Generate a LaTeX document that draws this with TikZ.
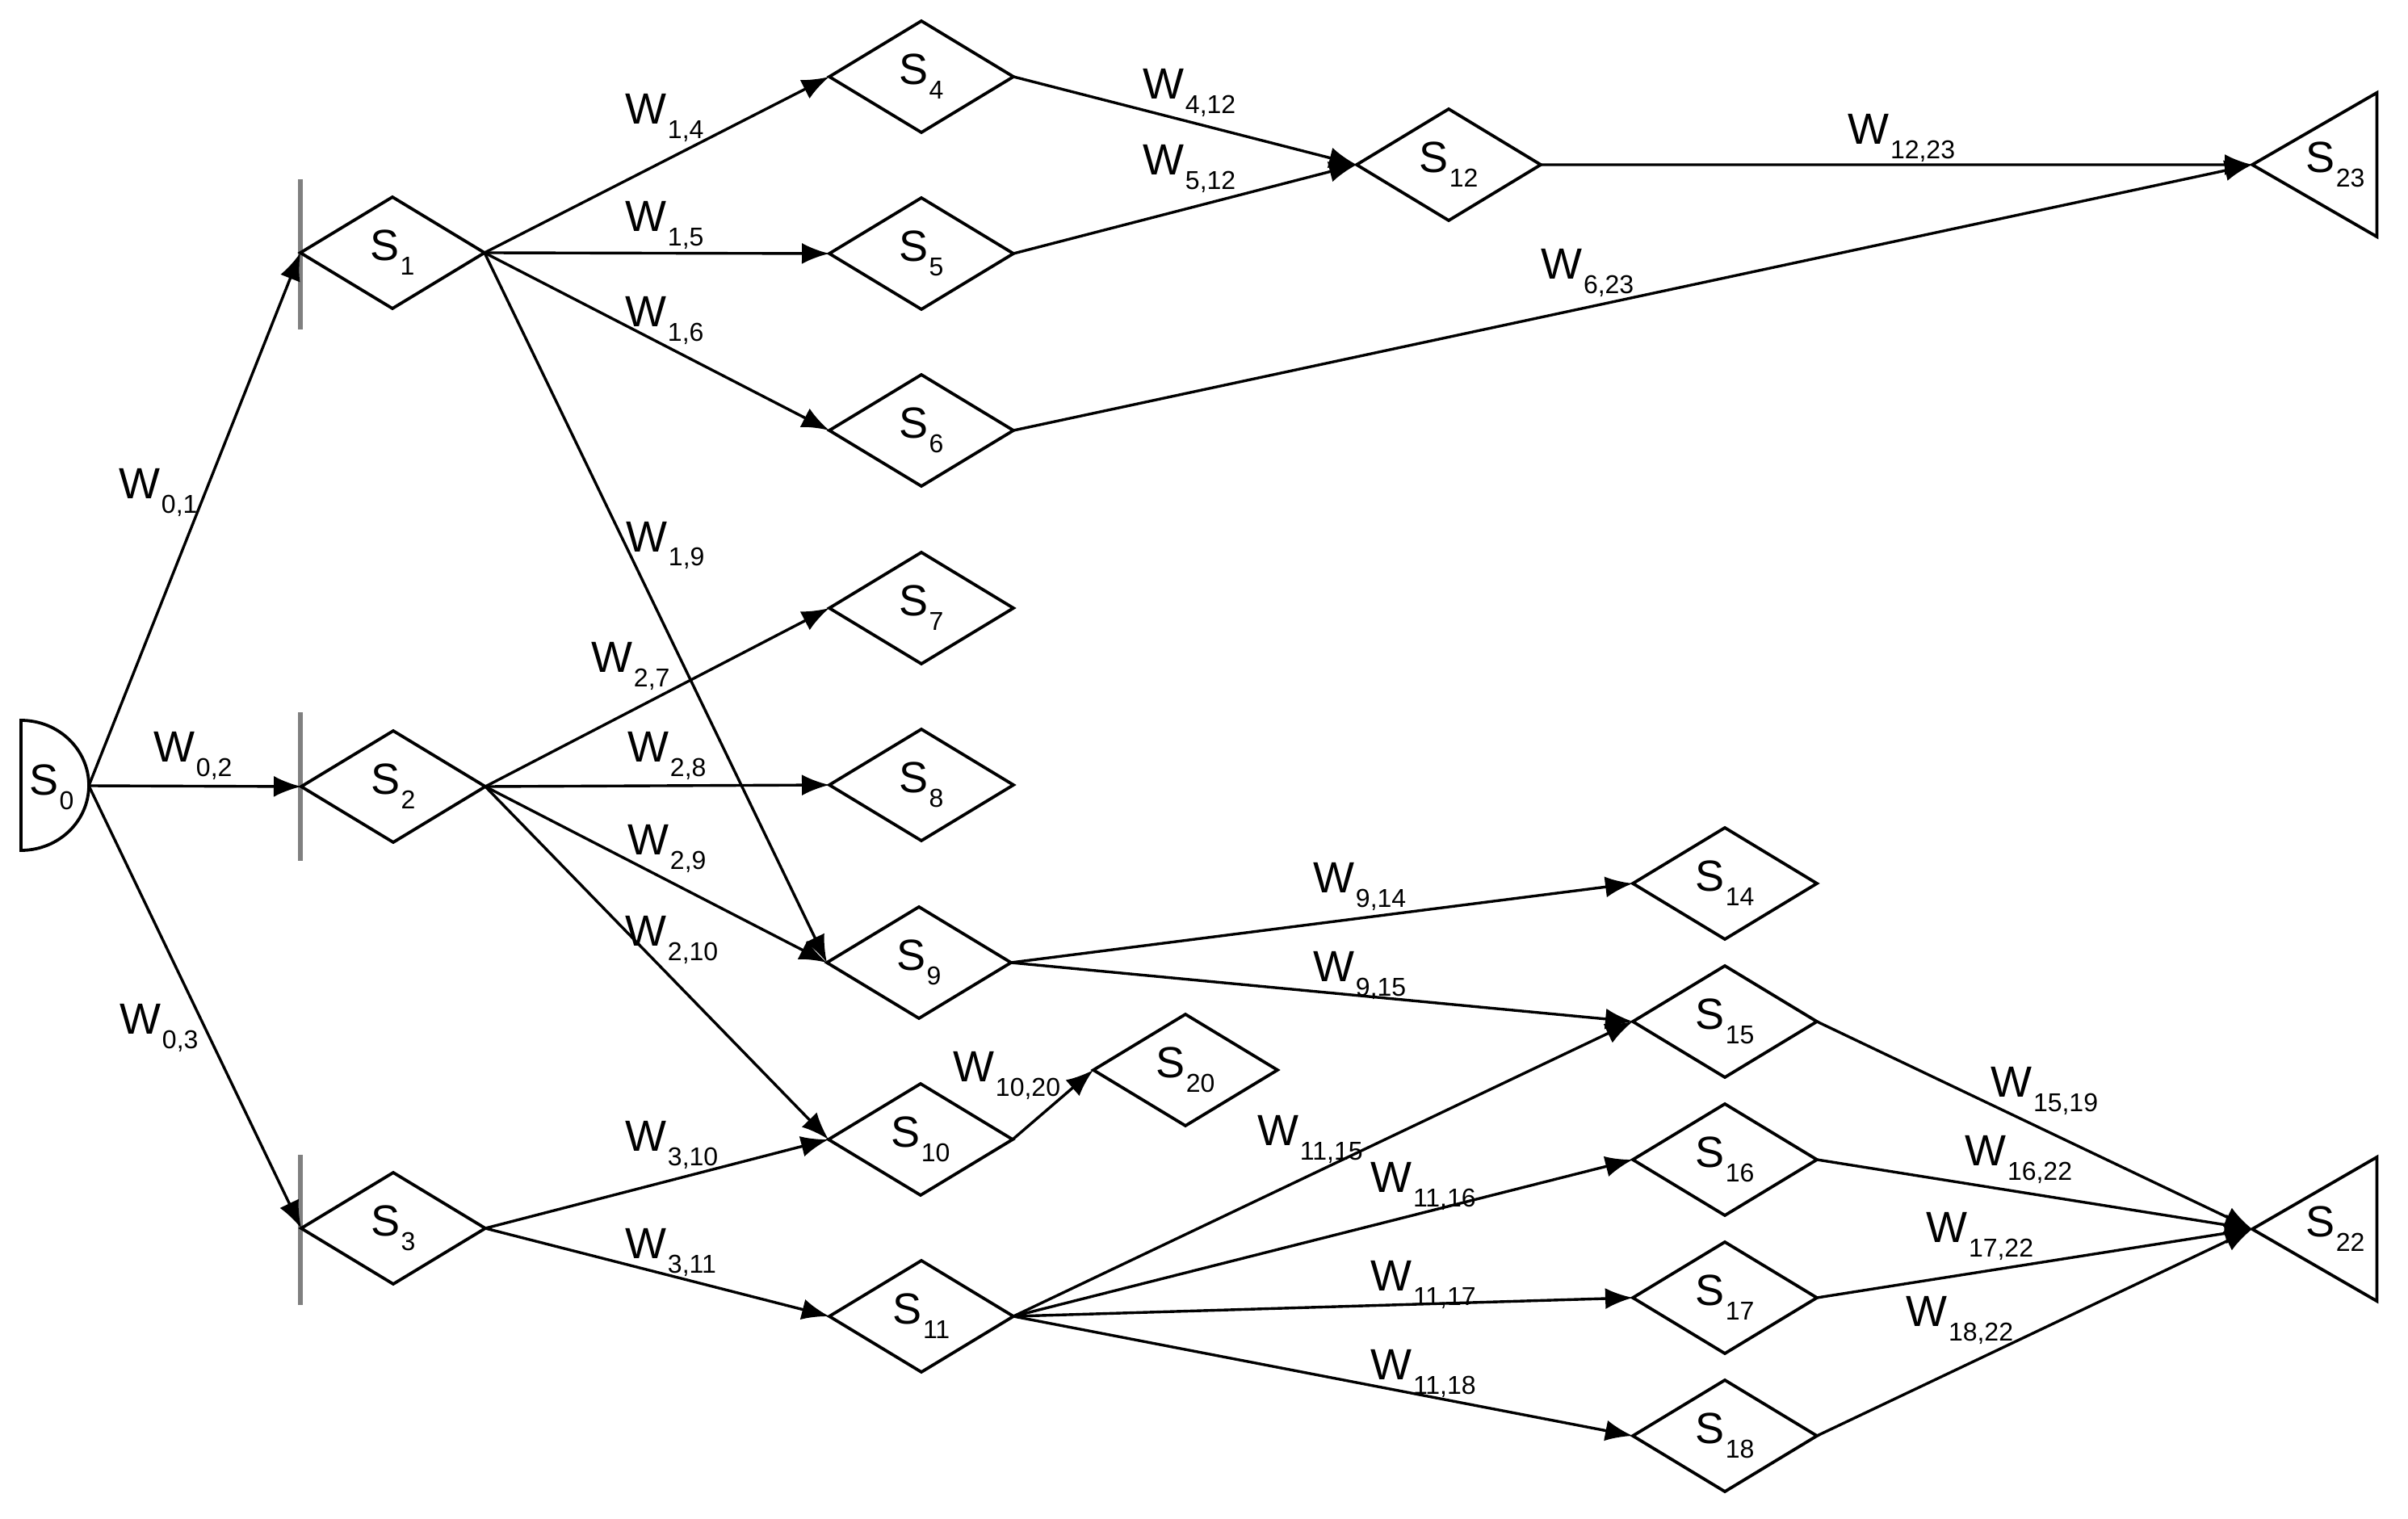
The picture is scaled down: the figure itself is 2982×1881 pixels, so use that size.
\documentclass[tikz,border=0pt]{standalone}
\usepackage{fontspec}
\setmainfont{Liberation Sans}
\usetikzlibrary{shapes.geometric,arrows.meta}
\newcommand{\subsz}{\fontsize{8}{9}\selectfont}
\newcommand{\wlab}[1]{W\kern0.3pt\raisebox{-4.5pt}{\subsz #1}}
\newcommand{\slab}[1]{S\kern0.3pt\raisebox{-4.5pt}{\subsz #1}}
\begin{document}
\begin{tikzpicture}[x=0.25pt,y=-0.25pt,
  state/.style={diamond, draw, line width=0.95pt, minimum width=57pt, minimum height=34.5pt, inner sep=0pt, outer sep=0pt, font=\fontsize{13.5}{14}\selectfont},
  sink/.style={regular polygon, regular polygon sides=3, shape border rotate=90, draw, line width=0.95pt, minimum size=50.25pt, inner sep=0pt, outer sep=0pt, font=\fontsize{13.5}{14}\selectfont},
  edge/.style={line width=0.85pt, -{Latex[length=8.5pt,width=6.5pt]}},
  wl/.style={anchor=base west, inner sep=0pt, font=\fontsize{13.5}{14}\selectfont},
  bar/.style={line width=1.3pt, draw=black!50}
]
\useasboundingbox (0,0) rectangle (2982,1881);
% source S0
\draw[line width=0.95pt] (26,892) -- (26,1053) arc[start angle=-90, end angle=90, x radius=21pt, y radius=20.125pt] -- cycle;
\node[inner sep=0pt, font=\fontsize{13.5}{14}\selectfont] (S0) at (64,975) {\slab{0}};
\coordinate (S0e) at (110,973);
% bars
\draw[bar] (372,222) coordinate (b1a) -- (372,408) coordinate (b1b);
\draw[bar] (372,882) coordinate (b2a) -- (372,1066) coordinate (b2b);
\draw[bar] (372,1430) coordinate (b3a) -- (372,1616) coordinate (b3b);
% states
\node[state] (S1) at (486,313) {\slab{1}};
\node[state] (S2) at (487,974) {\slab{2}};
\node[state] (S3) at (487,1521) {\slab{3}};
\node[state] (S4) at (1141,95) {\slab{4}};
\node[state] (S5) at (1141,314) {\slab{5}};
\node[state] (S6) at (1141,533) {\slab{6}};
\node[state] (S7) at (1141,753) {\slab{7}};
\node[state] (S8) at (1141,972) {\slab{8}};
\node[state] (S9) at (1138,1192) {\slab{9}};
\node[state] (S10) at (1140,1411) {\slab{10}};
\node[state] (S11) at (1141,1630) {\slab{11}};
\node[state] (S12) at (1794,204) {\slab{12}};
\node[state] (S14) at (2136,1094) {\slab{14}};
\node[state] (S15) at (2136,1265) {\slab{15}};
\node[state] (S16) at (2136,1436) {\slab{16}};
\node[state] (S17) at (2136,1607) {\slab{17}};
\node[state] (S18) at (2136,1778) {\slab{18}};
\node[state] (S20) at (1468,1325) {\slab{20}};
\node[sink] (S23) at (2892,204) {\slab{23}};
\node[sink] (S22) at (2892,1522) {\slab{22}};
% edges
\draw[edge] (S0e) -- (S1.west);
\draw[edge] (S0e) -- (S2.west);
\draw[edge] (S0e) -- (S3.west);
\draw[edge] (S1.east) -- (S4.west);
\draw[edge] (S1.east) -- (S5.west);
\draw[edge] (S1.east) -- (S6.west);
\draw[edge] (S1.east) -- (S9.west);
\draw[edge] (S2.east) -- (S7.west);
\draw[edge] (S2.east) -- (S8.west);
\draw[edge] (S2.east) -- (S9.west);
\draw[edge] (S2.east) -- (S10.west);
\draw[edge] (S3.east) -- (S10.west);
\draw[edge] (S3.east) -- (S11.west);
\draw[edge] (S4.east) -- (S12.west);
\draw[edge] (S5.east) -- (S12.west);
\draw[edge] (S12.east) -- (S23.west);
\draw[edge] (S6.east) -- (S23.west);
\draw[edge] (S9.east) -- (S14.west);
\draw[edge] (S9.east) -- (S15.west);
\draw[edge] (S10.east) -- (S20.west);
\draw[edge] (S11.east) -- (S15.west);
\draw[edge] (S11.east) -- (S16.west);
\draw[edge] (S11.east) -- (S17.west);
\draw[edge] (S11.east) -- (S18.west);
\draw[edge] (S15.east) -- (S22.west);
\draw[edge] (S16.east) -- (S22.west);
\draw[edge] (S17.east) -- (S22.west);
\draw[edge] (S18.east) -- (S22.west);
% labels
\node[wl] (w01) at (147,617) {\wlab{0,1}};
\node[wl] (w02) at (190,943) {\wlab{0,2}};
\node[wl] (w03) at (148,1280) {\wlab{0,3}};
\node[wl] (w14) at (774,154) {\wlab{1,4}};
\node[wl] (w15) at (774,287) {\wlab{1,5}};
\node[wl] (w16) at (774,405) {\wlab{1,6}};
\node[wl] (w19) at (775,683) {\wlab{1,9}};
\node[wl] (w27) at (732,832) {\wlab{2,7}};
\node[wl] (w28) at (777,943) {\wlab{2,8}};
\node[wl] (w29) at (777,1058) {\wlab{2,9}};
\node[wl] (w210) at (774,1171) {\wlab{2,10}};
\node[wl] (w310) at (774,1425) {\wlab{3,10}};
\node[wl] (w311) at (774,1558) {\wlab{3,11}};
\node[wl] (w412) at (1415,123) {\wlab{4,12}};
\node[wl] (w512) at (1415,217) {\wlab{5,12}};
\node[wl] (w1223) at (2288,179) {\wlab{12,23}};
\node[wl] (w623) at (1908,346) {\wlab{6,23}};
\node[wl] (w914) at (1626,1105) {\wlab{9,14}};
\node[wl] (w915) at (1626,1215) {\wlab{9,15}};
\node[wl] (w1020) at (1180,1339) {\wlab{10,20}};
\node[wl] (w1115) at (1557,1418) {\wlab{11,15}};
\node[wl] (w1116) at (1697,1476) {\wlab{11,16}};
\node[wl] (w1117) at (1697,1598) {\wlab{11,17}};
\node[wl] (w1118) at (1697,1708) {\wlab{11,18}};
\node[wl] (w1519) at (2465,1358) {\wlab{15,19}};
\node[wl] (w1622) at (2433,1443) {\wlab{16,22}};
\node[wl] (w1722) at (2385,1538) {\wlab{17,22}};
\node[wl] (w1822) at (2360,1642) {\wlab{18,22}};
\end{tikzpicture}
\end{document}
